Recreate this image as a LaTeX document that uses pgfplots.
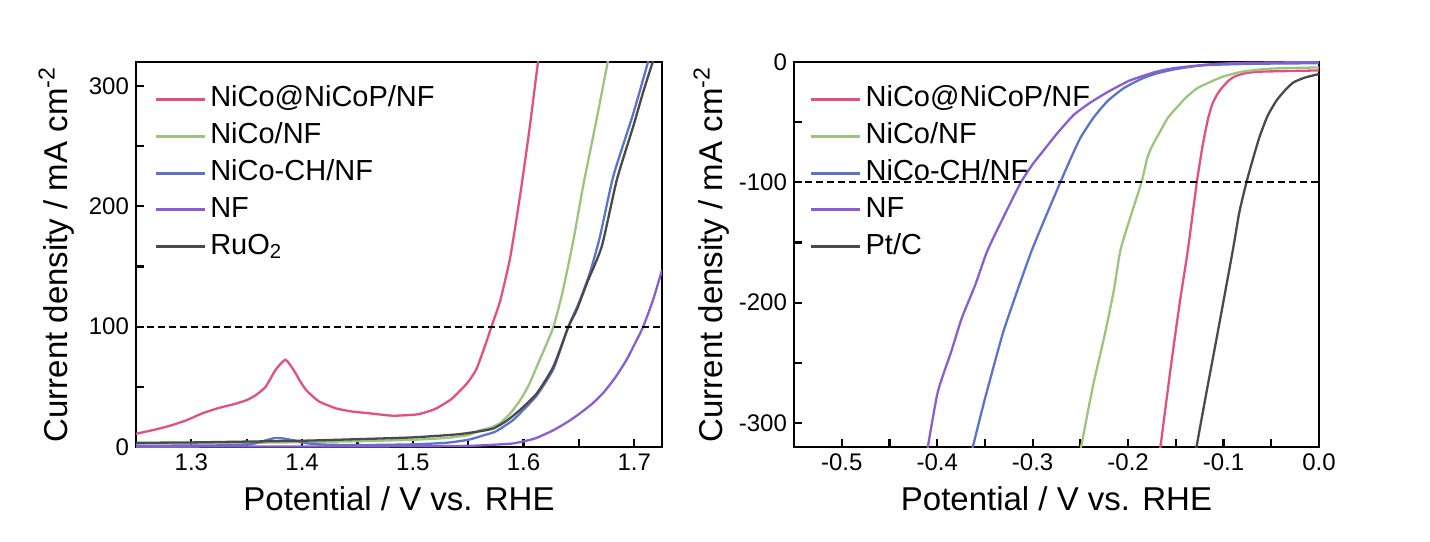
\documentclass[border=0pt]{standalone}
\usepackage{fontspec}
\setmainfont{Liberation Sans}
\usepackage{pgfplots}
\pgfplotsset{compat=1.18}
\definecolor{cred}{HTML}{E2507F}
\definecolor{cgreen}{HTML}{9BC47E}
\definecolor{cblue}{HTML}{5B74C8}
\definecolor{cpurple}{HTML}{8A5ED0}
\definecolor{cgray}{HTML}{4A4A4A}
\pgfplotsset{
  myaxis/.style={
    scale only axis, width=263pt, height=192.5pt, anchor=south west,
    axis line style={line width=1.4pt},
    tick align=inside, xtick pos=bottom, ytick pos=left,
    major tick length=4pt, minor tick length=4pt,
    every tick/.style={black, line width=1.1pt},
    minor tick num=1,
    /pgf/number format/assume math mode=true,
    tick label style={font=\fontsize{12}{14}\selectfont},
    label style={font=\fontsize{16.5}{19}\selectfont},
    xlabel style={at={(axis description cs:0.5,0)}, anchor=base, yshift=-31.5pt},
    ylabel={Current density / mA cm\textsuperscript{-2}},
    xlabel={Potential / V vs. RHE},
    legend style={draw=none, fill=none, inner sep=0pt, anchor=north west,
      font=\fontsize{14.5}{17}\selectfont, row sep=4.4pt, column sep=1.5pt,
      nodes={inner sep=0.5pt, text height=10.2pt, text depth=2.8pt}},
    legend cell align=left,
    legend image code/.code={\draw[#1, line width=1.5pt] (0pt,0pt) -- (24.5pt,0pt);},
    every axis plot/.append style={line width=1.15pt, smooth, tension=0.35},
  }
}
\begin{document}
\begin{tikzpicture}
\path[use as bounding box] (0,0) rectangle (715pt,270.5pt);
\begin{axis}[myaxis, at={(68pt,47pt)},
  xmin=1.25, xmax=1.725, ymin=0, ymax=320,
  xtick={1.3,1.4,1.5,1.6,1.7}, ytick={0,100,200,300},
  xticklabel style={/pgf/number format/fixed, /pgf/number format/precision=1},
  ylabel style={at={(axis description cs:-0.131,0.5)}, anchor=base},
  legend style={at={(axis description cs:0.034,0.94)}},
]
\addplot[cred] coordinates {
(1.250,11) (1.265,14) (1.280,17.5) (1.295,22) (1.310,28) (1.325,32.5) (1.340,36) (1.350,39)
(1.358,43) (1.367,50) (1.376,64) (1.385,72.5) (1.393,63) (1.398,55) (1.404,47) (1.415,38)
(1.431,32) (1.445,29.5) (1.461,28) (1.482,26) (1.503,27) (1.512,29) (1.521,32) (1.535,40)
(1.549,53) (1.557,64) (1.564,81) (1.571,100) (1.579,122) (1.588,158) (1.597,210) (1.605,262)
(1.613,320) (1.615,335)};
\addlegendentry{NiCo@NiCoP/NF}
\addplot[cgreen] coordinates {
(1.250,3.0) (1.300,3.2) (1.350,3.5) (1.400,4.0) (1.450,4.8) (1.500,6.0) (1.530,7.5) (1.550,10)
(1.561,14) (1.570,16) (1.579,20) (1.588,28) (1.597,39) (1.605,52) (1.612,67) (1.620,84)
(1.627,100) (1.635,128) (1.645,172) (1.654,218) (1.665,268) (1.676,320) (1.678,330)};
\addlegendentry{NiCo/NF}
\addplot[cblue] coordinates {
(1.250,1.0) (1.300,1.2) (1.340,1.5) (1.355,2.5) (1.365,5) (1.376,7.5) (1.385,6.8) (1.395,5)
(1.405,3) (1.420,2) (1.450,1.6) (1.500,2.2) (1.530,3.5) (1.550,6) (1.565,10) (1.575,13)
(1.590,22) (1.600,31) (1.612,43) (1.627,65) (1.640,99) (1.650,120) (1.660,145) (1.669,175)
(1.681,225) (1.699,277) (1.713,322)};
\addlegendentry{NiCo-CH/NF}
\addplot[cpurple] coordinates {
(1.250,0.3) (1.400,0.4) (1.500,0.6) (1.552,1) (1.575,2) (1.591,3) (1.610,7) (1.627,14)
(1.640,21) (1.651,28) (1.662,36) (1.672,45) (1.683,58) (1.693,72.5) (1.700,85) (1.708,100)
(1.717,122.5) (1.725,147)};
\addlegendentry{NF}
\addplot[cgray] coordinates {
(1.250,3.5) (1.300,3.8) (1.350,4.5) (1.400,5.2) (1.450,6.5) (1.500,8) (1.540,10.5) (1.560,13)
(1.573,15.5) (1.585,22) (1.597,31) (1.612,44.7) (1.627,67) (1.6405,100) (1.648,114) (1.658,138)
(1.6707,167) (1.6842,222) (1.6992,267) (1.708,295) (1.7173,322)};
\addlegendentry{RuO\textsubscript{2}}
\addplot[black, line width=1pt, sharp plot, dash pattern=on 3.3pt off 2.2pt, forget plot] coordinates {(1.25,100) (1.725,100)};
\end{axis}
\begin{axis}[myaxis, at={(397pt,47pt)}, width=262.5pt,
  xmin=-0.55, xmax=0, ymin=-320, ymax=0,
  xtick={-0.5,-0.4,-0.3,-0.2,-0.1,0}, ytick={-300,-200,-100,0},
  xticklabel style={/pgf/number format/fixed, /pgf/number format/fixed zerofill, /pgf/number format/precision=1},
  ylabel style={at={(axis description cs:-0.137,0.5)}, anchor=base},
  legend style={at={(axis description cs:0.029,0.94)}},
]
\addplot[cred] coordinates {
(-0.1663,-321) (-0.155,-252) (-0.1457,-199) (-0.1375,-157) (-0.128,-100) (-0.122,-70)
(-0.1165,-48) (-0.1118,-35) (-0.106,-26) (-0.1012,-21) (-0.094,-15) (-0.087,-11.6)
(-0.075,-9) (-0.060,-8) (-0.030,-7.5) (0,-7)};
\addlegendentry{NiCo@NiCoP/NF}
\addplot[cgreen] coordinates {
(-0.2495,-321) (-0.237,-270) (-0.2243,-226) (-0.215,-190) (-0.2082,-157) (-0.200,-135)
(-0.186,-100) (-0.180,-80) (-0.1755,-71) (-0.168,-60) (-0.158,-46) (-0.148,-37) (-0.140,-30)
(-0.128,-22) (-0.115,-17) (-0.100,-12) (-0.080,-8) (-0.050,-5.5) (0,-4.5)};
\addlegendentry{NiCo/NF}
\addplot[cblue] coordinates {
(-0.3630,-321) (-0.350,-280) (-0.3314,-226) (-0.316,-190) (-0.3011,-157) (-0.286,-128)
(-0.271,-100) (-0.260,-80) (-0.2499,-63) (-0.236,-46) (-0.2215,-32.5) (-0.205,-22)
(-0.186,-14) (-0.170,-9.5) (-0.151,-6) (-0.130,-3.5) (-0.115,-2.5) (-0.070,-1.5) (0,-1)};
\addlegendentry{NiCo-CH/NF}
\addplot[cpurple] coordinates {
(-0.4100,-321) (-0.3993,-274) (-0.385,-240) (-0.3743,-213) (-0.360,-185) (-0.3475,-157)
(-0.330,-128) (-0.3123,-100) (-0.300,-85) (-0.290,-75) (-0.275,-60) (-0.257,-44) (-0.240,-34)
(-0.2215,-25) (-0.200,-16) (-0.186,-12) (-0.170,-8) (-0.151,-5) (-0.115,-2) (-0.080,-0.8) (0,0)};
\addlegendentry{NF}
\addplot[cgray] coordinates {
(-0.1286,-321) (-0.118,-275) (-0.1064,-226) (-0.0904,-157) (-0.0835,-125) (-0.076,-100)
(-0.069,-80) (-0.0622,-62) (-0.054,-45) (-0.0445,-32) (-0.035,-23) (-0.0268,-17)
(-0.015,-13) (0,-10)};
\addlegendentry{Pt/C}
\addplot[black, line width=1pt, sharp plot, dash pattern=on 3.3pt off 2.2pt, forget plot] coordinates {(-0.55,-100) (0,-100)};
\end{axis}
\end{tikzpicture}
\end{document}
